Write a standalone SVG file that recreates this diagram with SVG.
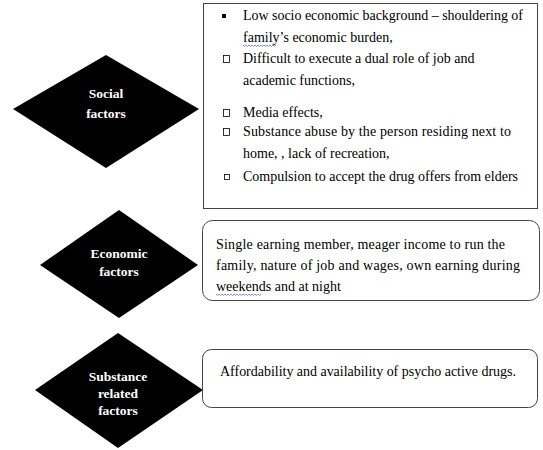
<svg xmlns="http://www.w3.org/2000/svg" width="543" height="450" viewBox="0 0 543 450">
<style>
.d{fill:#000}
.lbl{font-family:"Liberation Serif","Times New Roman",serif;font-weight:bold;font-size:13.5px;fill:#fff;text-anchor:middle}
.t{font-family:"Liberation Serif","Times New Roman",serif;font-size:14px;fill:#000}
.box{fill:#fff;stroke:#444;stroke-width:1}
.sq{fill:none;stroke:#000;stroke-width:0.8}
.wavy{fill:none;stroke:#4a5fd0;stroke-width:0.7}
</style>
<rect width="543" height="450" fill="#fff"/>
<g id="connectors"></g>
<g id="social">
<polygon class="d" points="106,55 199,109 106,168 13,109"/>
<text class="lbl" x="106" y="98">Social</text>
<text class="lbl" x="106" y="118">factors</text>
</g>
<g id="social-box">
<rect class="box" x="203.5" y="3.5" width="334" height="205"/>
<rect x="222" y="14" width="4" height="4" fill="#000"/>
<text class="t" x="243" y="20" textLength="280" lengthAdjust="spacing">Low socio economic background – shouldering of</text>
<text class="t" x="243" y="42">family’s economic  burden,</text>
<path class="wavy" d="M243,45 l1.5,1.5 l1.5,-1.5 l1.5,1.5 l1.5,-1.5 l1.5,1.5 l1.5,-1.5 l1.5,1.5 l1.5,-1.5 l1.5,1.5 l1.5,-1.5 l1.5,1.5 l1.5,-1.5 l1.5,1.5 l1.5,-1.5 l1.5,1.5 l1.5,-1.5 l1.5,1.5 l1.5,-1.5 l1.5,1.5 l1.5,-1.5 l1.5,1.5 l1.5,-1.5"/>
<rect class="sq" x="223.5" y="55.5" width="6" height="7"/>
<text class="t" x="243" y="63">Difficult to execute  a dual  role of job and</text>
<text class="t" x="243" y="85">academic  functions,</text>
<rect class="sq" x="223.5" y="109.5" width="6" height="7"/>
<text class="t" x="243" y="117">Media effects,</text>
<rect class="sq" x="223.5" y="128.5" width="6" height="7"/>
<text class="t" x="243" y="136" textLength="268" lengthAdjust="spacing">Substance  abuse by the person residing next to</text>
<text class="t" x="243" y="158">home, , lack of recreation,</text>
<rect class="sq" x="224.5" y="174.5" width="5" height="5"/>
<text class="t" x="243" y="181" textLength="275" lengthAdjust="spacing">Compulsion  to accept the drug offers from elders</text>
</g>
<g id="economic">
<polygon class="d" points="119,210 198,265 119,318 40,265"/>
<text class="lbl" x="119" y="258">Economic</text>
<text class="lbl" x="119" y="276">factors</text>
</g>
<g id="economic-box">
<rect class="box" x="202.5" y="220.5" width="337" height="80" rx="10"/>
<text class="t" x="216" y="249" textLength="289" lengthAdjust="spacing">Single earning member, meager income to run the</text>
<text class="t" x="216" y="270" textLength="304" lengthAdjust="spacing">family,  nature  of  job  and  wages,  own  earning  during</text>
<text class="t" x="216" y="291">weekends and at night</text>
<path class="wavy" d="M216,294 l1.5,1.5 l1.5,-1.5 l1.5,1.5 l1.5,-1.5 l1.5,1.5 l1.5,-1.5 l1.5,1.5 l1.5,-1.5 l1.5,1.5 l1.5,-1.5 l1.5,1.5 l1.5,-1.5 l1.5,1.5 l1.5,-1.5 l1.5,1.5 l1.5,-1.5 l1.5,1.5 l1.5,-1.5 l1.5,1.5 l1.5,-1.5 l1.5,1.5 l1.5,-1.5 l1.5,1.5 l1.5,-1.5 l1.5,1.5 l1.5,-1.5 l1.5,1.5 l1.5,-1.5 l1.5,1.5 l1.5,-1.5"/>
</g>
<g id="substance">
<polygon class="d" points="118,333 203,390 118,448 35,390"/>
<text class="lbl" x="118" y="381">Substance</text>
<text class="lbl" x="118" y="398">related</text>
<text class="lbl" x="118" y="415">factors</text>
</g>
<g id="substance-box">
<rect class="box" x="202.5" y="349.5" width="335" height="58" rx="9"/>
<text class="t" x="220" y="376" textLength="296" lengthAdjust="spacing">Affordability and availability of psycho  active drugs.</text>
</g>
</svg>
